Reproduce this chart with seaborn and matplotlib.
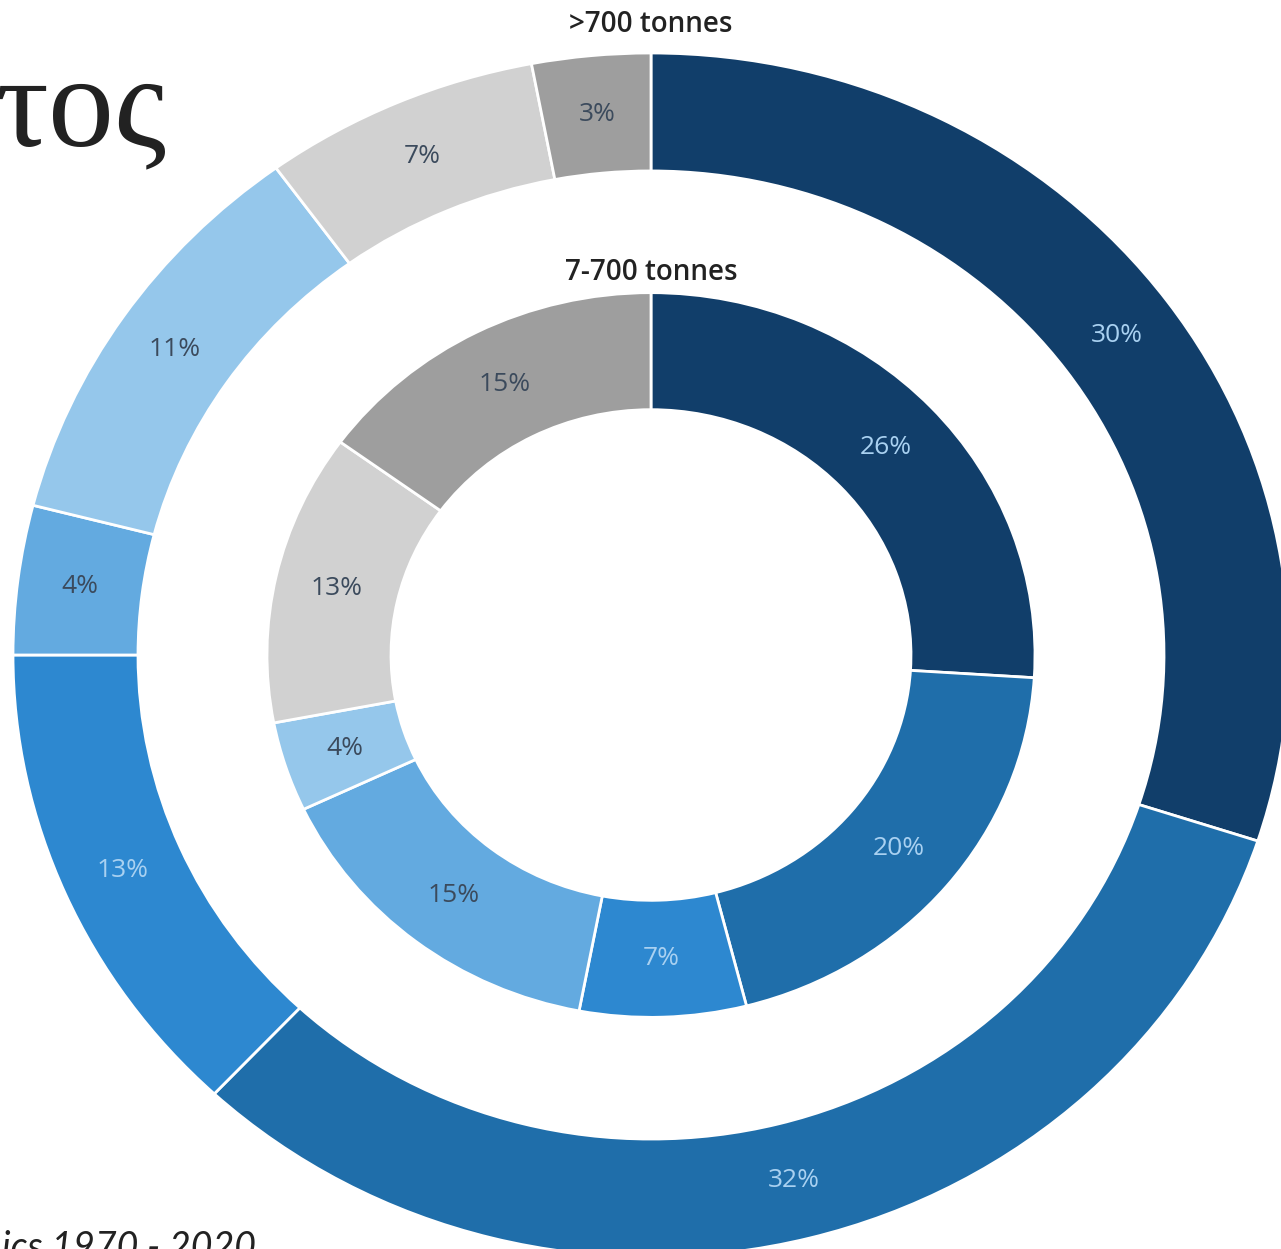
import matplotlib
matplotlib.use("Agg")
import matplotlib.pyplot as plt
import seaborn as sns

# ---- data ----
categories = ["c1", "c2", "c3", "c4", "c5", "c6", "c7"]
outer_values = [30, 32, 13, 4, 11, 7, 3]      # >700 tonnes
inner_values = [26, 20, 7, 15, 4, 13, 15]     # 7-700 tonnes
ring_titles = [">700 tonnes", "7-700 tonnes"]
title_fragment = "τος"
source_fragment = "ics 1970 - 2020"

palette = sns.color_palette(["#113e6a", "#1f6eaa", "#2d88d0", "#63aae0",
                             "#95c7eb", "#d1d1d1", "#9e9e9e"])
label_colors = ["#a9d1f1", "#a9d1f1", "#a9d1f1", "#3b4a5c",
                "#3b4a5c", "#3b4a5c", "#3b4a5c"]

sns.set_theme(style="white")
plt.rcParams["font.family"] = ["Open Sans", "DejaVu Sans"]

W, H = 1281, 1249
fig = plt.figure(figsize=(W / 100, H / 100), dpi=100)
ax = fig.add_axes([0, 0, 1, 1])

cx, cy_px = 651, 655
k = 638 / 602  # vertical stretch of the reference (elliptical rings)

def py(y):
    return (cy_px - y) * k

# outer ring
R_out, w_out = 638, 125
wedges, texts, autotexts = ax.pie(
    outer_values, radius=R_out, center=(cx, 0), startangle=90, counterclock=False,
    colors=palette, wedgeprops=dict(width=w_out, edgecolor="white", linewidth=2.0),
    autopct=lambda p: f"{round(p)}%", pctdistance=(R_out - w_out / 2) / R_out,
    textprops=dict(fontsize=19), frame=True)
for t, c in zip(autotexts, label_colors):
    t.set_color(c)

# inner ring
R_in, w_in = 384, 124
wedges2, texts2, autotexts2 = ax.pie(
    inner_values, radius=R_in, center=(cx, 0), startangle=90, counterclock=False,
    colors=palette, wedgeprops=dict(width=w_in, edgecolor="white", linewidth=2.0),
    autopct=lambda p: f"{round(p)}%", pctdistance=(R_in - w_in / 2) / R_in,
    textprops=dict(fontsize=19), frame=True)
for t, c in zip(autotexts2, label_colors):
    t.set_color(c)

ax.set_aspect("auto")
ax.set_xlim(0, W)
ax.set_ylim(py(H), py(0))
ax.axis("off")

# ring titles
ax.text(651, py(25), ring_titles[0], ha="center", va="center", fontsize=20,
        fontweight="semibold", color="#222222")
ax.text(651, py(272), ring_titles[1], ha="center", va="center", fontsize=20,
        fontweight="semibold", color="#222222")

# slide fragments
ax.text(166, py(145), title_fragment, ha="right", va="baseline", fontsize=95,
        family=["Liberation Serif", "DejaVu Serif"], color="#222222")
ax.text(2, py(1230), source_fragment, ha="left", va="top", fontsize=27,
        style="italic", family=["Lato", "DejaVu Sans"], color="#222222")

fig.savefig("out.png", dpi=100)
